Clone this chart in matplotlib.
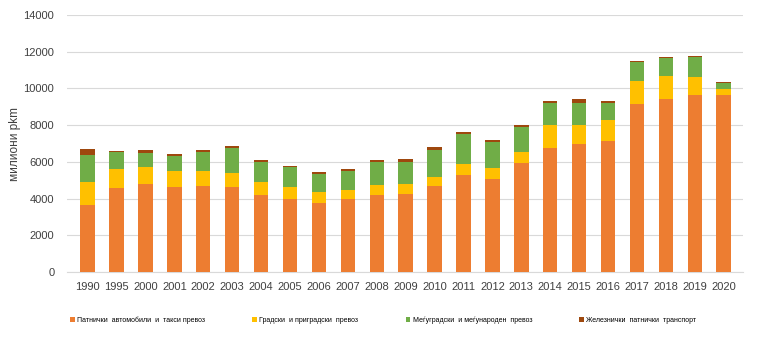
import matplotlib.pyplot as plt
import numpy as np

years = ['1990', '1995', '2000', '2001', '2002', '2003', '2004', '2005', '2006', '2007',
         '2008', '2009', '2010', '2011', '2012', '2013', '2014', '2015', '2016', '2017',
         '2018', '2019', '2020']

# cumulative tops, converted to segments below
cars_top = [3640, 4560, 4780, 4620, 4670, 4620, 4180, 3960, 3750, 3960,
            4180, 4240, 4670, 5270, 5050, 5930, 6750, 6960, 7130, 9150,
            9420, 9640, 9640]
city_top = [4890, 5600, 5710, 5490, 5490, 5380, 4890, 4620, 4350, 4450,
            4730, 4780, 5160, 5870, 5650, 6530, 8000, 8000, 8270, 10400,
            10670, 10620, 9960]
intercity_top = [6360, 6550, 6470, 6310, 6530, 6750, 5980, 5710, 5330, 5490,
                 5980, 5980, 6640, 7510, 7070, 7890, 9200, 9200, 9200, 11440,
                 11650, 11710, 10290]
rail_top = [6690, 6600, 6640, 6420, 6640, 6850, 6090, 5780, 5440, 5600,
            6090, 6150, 6800, 7620, 7180, 8000, 9310, 9420, 9310, 11490,
            11710, 11760, 10340]

labels = ['Патнички  автомобили  и  такси превоз',
          'Градски  и приградски  превоз',
          'Меѓуградски  и меѓународен  превоз',
          'Железнички  патнички  транспорт']
colors = ['#ED7D31', '#FFC000', '#70AD47', '#9E480E']

tops = np.array([cars_top, city_top, intercity_top, rail_top], dtype=float)
segments = np.diff(np.vstack([np.zeros(len(years)), tops]), axis=0)

plt.rcParams['font.family'] = ['Liberation Sans', 'DejaVu Sans']

fig, ax = plt.subplots(figsize=(7.59, 3.48), dpi=100)
fig.subplots_adjust(left=0.088, right=0.979, top=0.957, bottom=0.218)

x = np.arange(len(years))
bottom = np.zeros(len(years))
handles = []
for seg, lab, col in zip(segments, labels, colors):
    h = ax.bar(x, seg, width=0.5, bottom=bottom, color=col, label=lab, zorder=3)
    handles.append(h)
    bottom += seg

ax.set_xlim(-0.72, len(years) - 0.33)
ax.set_ylim(0, 14000)
ax.set_yticks(np.arange(0, 14001, 2000))
ax.set_xticks(x)
ax.set_xticklabels(years)
ax.tick_params(axis='both', length=0, labelsize=8, colors='#404040')
ax.tick_params(axis='y', pad=9)
ax.tick_params(axis='x', pad=7)
ax.grid(axis='y', color='#D9D9D9', linewidth=0.8, zorder=0)
for s in ['top', 'right', 'left']:
    ax.spines[s].set_visible(False)
ax.spines['bottom'].set_color('#D9D9D9')
ax.set_ylabel('милиони pkm', fontsize=8.5, color='#404040', labelpad=2)

fig.legend(handles=handles, loc='center', bbox_to_anchor=(0.505, 0.08), ncol=4,
           frameon=False, fontsize=5, handlelength=0.7, handleheight=0.7,
           handletextpad=0.3, columnspacing=6.8)

fig.savefig('out.png', dpi=100)
